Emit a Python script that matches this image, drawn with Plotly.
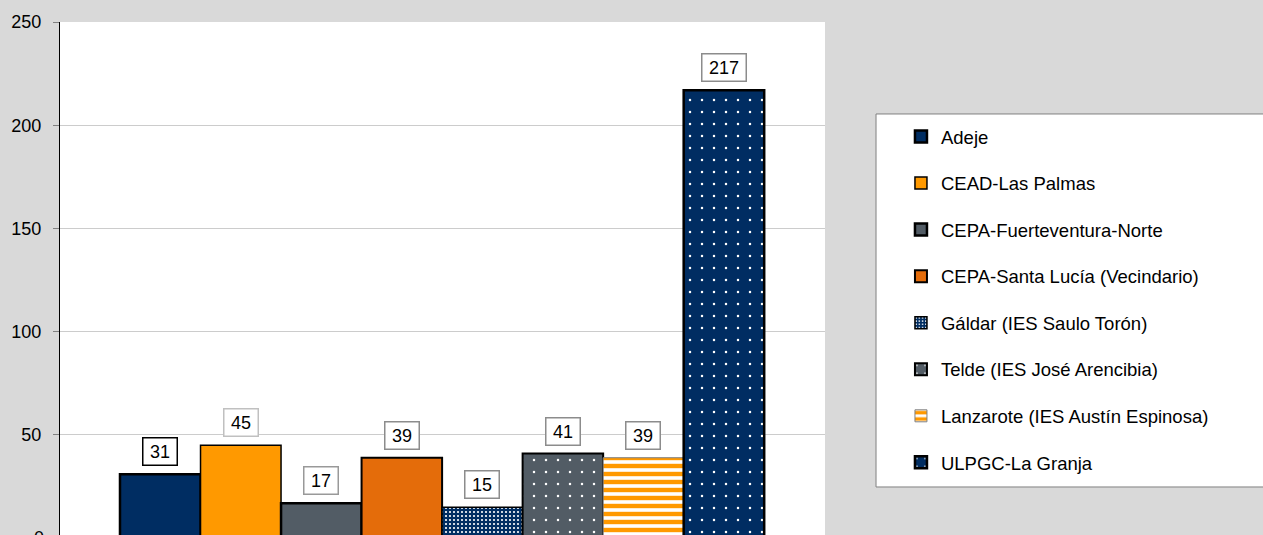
import plotly.graph_objects as go

# ---- data ----
centers = ["Adeje", "CEAD-Las Palmas", "CEPA-Fuerteventura-Norte",
           "CEPA-Santa Lucía (Vecindario)", "Gáldar (IES Saulo Torón)",
           "Telde (IES José Arencibia)", "Lanzarote (IES Austín Espinosa)",
           "ULPGC-La Granja"]
values = [31, 45, 17, 39, 15, 41, 39, 217]
y_ticks = [50, 100, 150, 200, 250]

# ---- styles ----
NAVY = "#002d62"
ORANGE = "#ff9900"
GREY = "#525c65"
DORANGE = "#e46c0a"
styles = [
    dict(color=NAVY, line=dict(color="black", width=2.5)),
    dict(color=ORANGE, line=dict(color="black", width=1.5)),
    dict(color=GREY, line=dict(color="black", width=2.5)),
    dict(color=DORANGE, line=dict(color="black", width=2)),
    dict(color=NAVY, line=dict(color="black", width=1.5),
         pattern=dict(shape=".", bgcolor=NAVY, fgcolor="white", size=4,
                      solidity=0.22, fillmode="replace")),
    dict(color=GREY, line=dict(color="black", width=2),
         pattern=dict(shape=".", bgcolor=GREY, fgcolor="white", size=12,
                      solidity=0.035, fillmode="replace")),
    dict(color=ORANGE, line=dict(color="#7f7f7f", width=1),
         pattern=dict(shape="-", bgcolor="white", fgcolor=ORANGE, size=8,
                      solidity=0.55, fillmode="replace")),
    dict(color=NAVY, line=dict(color="black", width=2.5),
         pattern=dict(shape=".", bgcolor=NAVY, fgcolor="white", size=12,
                      solidity=0.035, fillmode="replace")),
]
label_borders = ["black", "#c0c0c0", "#999999", "#8c8c8c", "#8c8c8c",
                 "#8c8c8c", "#8c8c8c", "#8c8c8c"]

FONT = "Arial, Liberation Sans, sans-serif"

fig = go.Figure()
for i, (name, v) in enumerate(zip(centers, values)):
    fig.add_trace(go.Bar(
        x=[i], y=[v], width=1, name=name, marker=styles[i],
        legendgroup=f"g{i}", hoverinfo="skip",
    ))
    fig.add_annotation(
        x=i, y=v, xref="x", yref="y", text=str(v), showarrow=False,
        yanchor="bottom", yshift=8,
        font=dict(family=FONT, size=18, color="black"),
        bgcolor="white", bordercolor=label_borders[i], borderwidth=1.5,
        borderpad=4, width=5 + 10 * len(str(v)), height=18,
    )

# the "0" tick label sits just below the visible window
fig.add_annotation(x=0, xref="paper", y=-0.006, yref="paper", text="0",
                   showarrow=False, xanchor="right", yanchor="middle",
                   xshift=-14, font=dict(family=FONT, size=18, color="black"))

# legend frame (extends beyond the right edge)
fig.add_shape(type="rect", xref="paper", yref="paper",
              x0=1.0667, x1=1.7, y0=0.0936, y1=0.8207,
              line=dict(color="#808080", width=1), fillcolor="white",
              layer="below")

fig.update_layout(
    width=1263, height=535,
    margin=dict(l=60, r=438, t=22, b=0),
    paper_bgcolor="#d9d9d9", plot_bgcolor="white",
    barmode="overlay",
    font=dict(family=FONT, size=18, color="black"),
    showlegend=True,
    legend=dict(
        x=1.0993, xanchor="left", y=0.8129, yanchor="top",
        bgcolor="rgba(0,0,0,0)", borderwidth=0,
        traceorder="grouped", tracegroupgap=19.5,
        font=dict(family=FONT, size=18.5, color="black"),
    ),
    xaxis=dict(visible=False, range=[-1.245, 8.255]),
    yaxis=dict(
        range=[1.57, 250], tickvals=y_ticks, showline=True,
        linecolor="black", linewidth=1, ticks="outside", ticklen=6,
        tickcolor="#808080", gridcolor="#cccccc", zeroline=False,
        ticklabelstandoff=8, tickfont=dict(family=FONT, size=18),
    ),
)

fig.write_html("out.html", config={"displayModeBar": False},
               post_script="document.body.style.margin='0';"
                           "document.body.style.background='#d9d9d9';")
